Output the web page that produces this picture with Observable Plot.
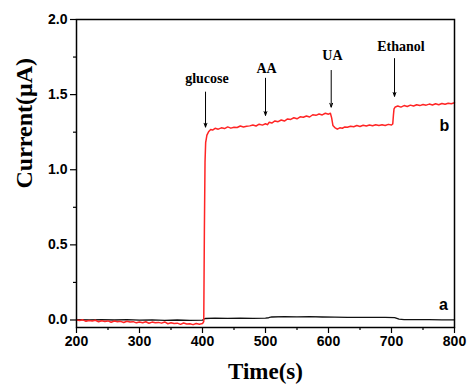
<!DOCTYPE html>
<html>
<head>
<meta charset="utf-8">
<script src="https://cdn.jsdelivr.net/npm/d3@7"></script>
<script src="https://cdn.jsdelivr.net/npm/@observablehq/plot@0.6"></script>
<style>
  html, body { margin: 0; padding: 0; background: #fff; }
  #chart svg { display: block; }
  #chart g[aria-label="x-axis tick label"] text,
  #chart g[aria-label="y-axis tick label"] text,
  #chart g[aria-label="x-axis tick label"],
  #chart g[aria-label="y-axis tick label"] {
    font-weight: bold; fill: #000; font-family: 'Liberation Sans', Arial, sans-serif; font-size: 14px;
  }
</style>
</head>
<body>
<div id="chart"></div>
<script>
// Curve b (red): time (s) and current (µA)
const bTime = [200,205,210,215,220,225,230,235,240,245,250,255,260,265,270,275,280,285,290,295,
  300,305,310,315,320,325,330,335,340,345,350,355,360,365,370,375,380,385,390,395,
  400,402,403,404,405,407,410,413,416,420,425,430,435,440,445,450,455,460,465,470,475,480,485,490,495,
  500,503,506,510,515,520,525,530,535,540,545,550,555,560,565,570,575,580,585,590,595,
  600,603,605,607,610,614,618,622,626,630,635,640,645,650,655,660,665,670,675,680,685,690,695,
  700,702,703,704,706,710,715,720,725,730,735,740,745,750,755,760,765,770,775,780,785,790,795,800];
const bCurrent = [0.000,-0.004,0.001,-0.009,-0.003,-0.007,-0.002,-0.012,-0.005,-0.010,-0.006,-0.015,-0.007,-0.011,-0.009,-0.017,-0.008,-0.014,-0.011,-0.019,
  -0.013,-0.018,-0.012,-0.022,-0.014,-0.019,-0.016,-0.021,-0.013,-0.025,-0.019,-0.024,-0.021,-0.029,-0.020,-0.027,-0.025,-0.031,-0.023,-0.028,
  -0.024,-0.010,0.60,1.05,1.18,1.23,1.255,1.268,1.264,1.276,1.270,1.279,1.274,1.285,1.277,1.283,1.281,1.291,1.285,1.290,1.292,1.298,1.291,1.303,1.297,
  1.306,1.300,1.316,1.311,1.325,1.320,1.331,1.324,1.338,1.335,1.346,1.339,1.352,1.349,1.358,1.351,1.366,1.362,1.371,1.365,1.376,
  1.370,1.376,1.345,1.295,1.281,1.270,1.279,1.276,1.285,1.283,1.289,1.286,1.294,1.288,1.296,1.291,1.298,1.293,1.300,1.295,1.299,1.294,1.302,
  1.298,1.305,1.36,1.405,1.418,1.424,1.417,1.427,1.421,1.430,1.424,1.433,1.427,1.434,1.430,1.437,1.431,1.439,1.433,1.441,1.436,1.443,1.439,1.446];

// Curve a (black)
const aTime = [200,220,240,260,280,300,320,340,360,380,400,402,405,420,440,460,480,500,505,510,530,550,570,590,610,630,650,670,690,705,712,720,740,760,780,800];
const aCurrent = [0.002,0.000,0.003,0.000,0.002,-0.001,0.001,-0.002,0.000,-0.002,-0.001,0.006,0.010,0.012,0.011,0.012,0.011,0.012,0.015,0.020,0.022,0.021,0.022,0.020,0.019,0.018,0.018,0.017,0.017,0.016,0.006,0.003,0.002,0.002,0.001,0.001];

// Injection annotations
const injLabels = ["glucose", "AA", "UA", "Ethanol"];
const injArrowX = [404.8, 500, 604.3, 704.8];
const injArrowTop = [1.517, 1.609, 1.661, 1.74];
const injArrowTip = [1.284, 1.362, 1.417, 1.489];
const injTextX = [407, 501.6, 606.3, 715];
const injTextY = [1.609, 1.672, 1.76, 1.822];

// Curve names
const curveNames = ["a", "b"];
const curveNameX = [782.5, 784];
const curveNameY = [0.102, 1.295];

// Axis ticks
const xTicks = [200, 300, 400, 500, 600, 700, 800];
const xMinor = [250, 350, 450, 550, 650, 750];
const yTicks = [0.0, 0.5, 1.0, 1.5, 2.0];
const yMinor = [0.25, 0.75, 1.25, 1.75];

const bData = bTime.map((t, i) => ({t, v: bCurrent[i]}));
const aData = aTime.map((t, i) => ({t, v: aCurrent[i]}));
const inj = injLabels.map((name, i) => ({name, x: injArrowX[i], y1: injArrowTop[i], y2: injArrowTip[i], tx: injTextX[i], ty: injTextY[i]}));
const names = curveNames.map((name, i) => ({name, x: curveNameX[i], y: curveNameY[i]}));

const serif = "'Liberation Serif', 'Times New Roman', serif";
const sans = "'Liberation Sans', Arial, sans-serif";

const chart = Plot.plot({
  width: 468,
  height: 389,
  marginLeft: 76,
  marginRight: 14,
  marginTop: 19,
  marginBottom: 62,
  x: {domain: [200, 800]},
  y: {domain: [-0.05, 2.0]},
  style: {fontFamily: sans, background: "#fff", color: "#000"},
  marks: [
    Plot.axisX({ticks: xTicks, tickSize: 6, tickPadding: 3, label: null, fontSize: 14, fontWeight: "bold", fontFamily: sans, strokeWidth: 1.2}),
    Plot.axisX({ticks: xMinor, tickSize: 3, tickFormat: () => "", label: null, strokeWidth: 1.2}),
    Plot.axisY({ticks: yTicks, tickSize: 6, tickPadding: 3, tickFormat: d3.format(".1f"), label: null, fontSize: 14, fontWeight: "bold", fontFamily: sans, strokeWidth: 1.2}),
    Plot.axisY({ticks: yMinor, tickSize: 3, tickFormat: () => "", label: null, strokeWidth: 1.2}),
    Plot.line(aData, {x: "t", y: "v", stroke: "#111", strokeWidth: 1.3}),
    Plot.line(bData, {x: "t", y: "v", stroke: "#ff2525", strokeWidth: 1.5}),
    Plot.frame({stroke: "#000", strokeWidth: 1.5}),
    Plot.arrow(inj, {x1: "x", x2: "x", y1: "y1", y2: "y2", stroke: "#000", strokeWidth: 1, headLength: 6, headAngle: 40}),
    Plot.text(inj, {x: "tx", y: "ty", text: "name", fontFamily: serif, fontWeight: "bold", fontSize: 14, fill: "#000"}),
    Plot.text(names, {x: "x", y: "y", text: "name", fontFamily: sans, fontWeight: "bold", fontSize: 16, fill: "#000"}),
    Plot.text(["Current(μA)"], {frameAnchor: "left", dx: -52, dy: 15, rotate: -90, text: d => d, fontFamily: serif, fontWeight: "bold", fontSize: 24, fill: "#000"}),
    Plot.text(["Time(s)"], {frameAnchor: "bottom", dy: 51, text: d => d, fontFamily: serif, fontWeight: "bold", fontSize: 23, fill: "#000"})
  ]
});
document.getElementById("chart").appendChild(chart);
</script>
</body>
</html>
